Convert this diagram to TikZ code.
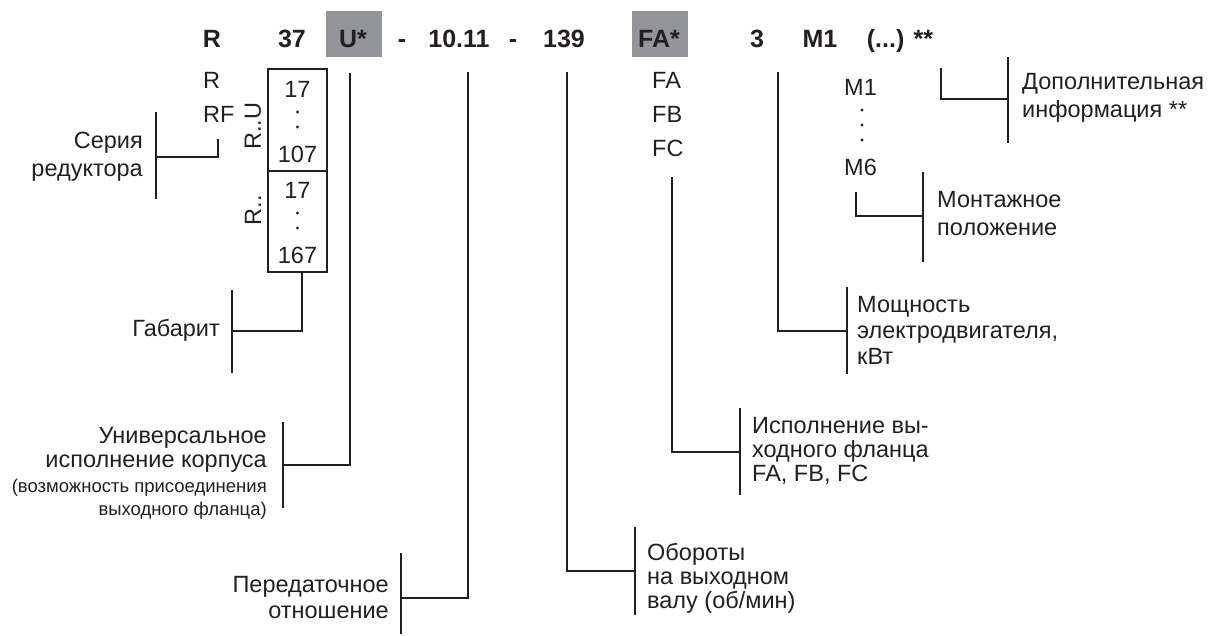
\documentclass[tikz,border=0pt]{standalone}
\usepackage{fontspec}
\setmainfont{Liberation Sans}
\definecolor{ink}{HTML}{231F20}
\definecolor{boxgray}{HTML}{939598}
\newcommand\lblL[1]{\begin{tabular}[t]{@{}l@{}}#1\end{tabular}}
\newcommand\lblR[1]{\begin{tabular}[t]{@{}r@{}}#1\end{tabular}}
\begin{document}
\begin{tikzpicture}[x=1pt,y=-1pt,
  conn/.style={draw=ink, line width=1.8pt},
  frame/.style={draw=ink, line width=1.8pt},
  graybox/.style={fill=boxgray, draw=none},
  code/.style={font=\fontsize{25}{28}\selectfont\bfseries, text=ink, inner sep=0pt, anchor=base},
  txt/.style={font=\fontsize{23.5}{24}\selectfont, text=ink, inner sep=0pt},
  txtw/.style={font=\fontsize{23.5}{28}\selectfont, text=ink, inner sep=0pt},
  txtm/.style={font=\fontsize{23.5}{26}\selectfont, text=ink, inner sep=0pt},
  small/.style={font=\fontsize{18.5}{23}\selectfont, text=ink, inner sep=0pt},
  val/.style={font=\fontsize{23.5}{24}\selectfont, text=ink, inner sep=0pt, anchor=base},
  dot/.style={circle, fill=ink, inner sep=0pt, minimum size=3.2pt},
]
\useasboundingbox (0,0) rectangle (1210,635);

% gray highlight boxes
\fill[graybox] (326,11) rectangle (382,57);
\fill[graybox] (632,11) rectangle (688,57);

% code row
\node[code] (cR) at (212,47) {R};
\node[code] (c37) at (292,47) {37};
\node[code] (cU) at (353,47) {U*};
\node[code] (cd1) at (402,47) {-};
\node[code] (cRatio) at (459,47) {10.11};
\node[code] (cd2) at (513,47) {-};
\node[code] (c139) at (564,47) {139};
\node[code] (cFA) at (659,47) {FA*};
\node[code] (c3) at (757,47) {3};
\node[code] (cM1) at (820,47) {M1};
\node[code] (cX) at (900,47) {(...) **};

% series options
\node[val, anchor=base west] (sR) at (203,88) {R};
\node[val, anchor=base west] (sRF) at (203,122) {RF};

% size box
\draw[frame] (268,69) rectangle (327,272);
\draw[frame, line width=2.4pt] (268,171) -- (327,171);
\node[val] (n17a) at (297.5,97) {17};
\node[dot] (da1) at (297.5,112) {};
\node[dot] (da2) at (297.5,127) {};
\node[val] (n107) at (297.5,162) {107};
\node[val] (n17b) at (297.5,198) {17};
\node[dot] (db1) at (297.5,213) {};
\node[dot] (db2) at (297.5,228) {};
\node[val] (n167) at (297.5,263) {167};
\node[txt, rotate=90] (rU) at (253,126) {R..U};
\node[txt, rotate=90] (rR) at (253,210) {R..};

% flange options
\node[val, anchor=base west] (fA) at (652,88) {FA};
\node[val, anchor=base west] (fB) at (652,122) {FB};
\node[val, anchor=base west] (fC) at (652,156) {FC};

% mounting positions
\node[val, anchor=base west] (m1) at (844,95) {M1};
\node[dot] (dm1) at (862,110) {};
\node[dot] (dm2) at (862,125) {};
\node[dot] (dm3) at (862,140) {};
\node[val, anchor=base west] (m6) at (844,175) {M6};

% labels
\node[txtw, anchor=base east] (lSeries) at (143,148) {\lblR{Серия\\редуктора}};
\node[txt, anchor=base east] (lSize) at (220,336) {Габарит};
\node[txt, anchor=base east] (lUniv) at (267,443) {\lblR{Универсальное\\исполнение корпуса}};
\node[small, anchor=base east] (lUnivS) at (267,492) {\lblR{(возможность присоединения\\выходного фланца)}};
\node[txtm, anchor=base east] (lRatio) at (389,592) {\lblR{Передаточное\\отношение}};
\node[txt, anchor=base west] (lSpeed) at (647,560) {\lblL{Обороты\\на выходном\\валу (об/мин)}};
\node[txt, anchor=base west] (lFlange) at (752,433) {\lblL{Исполнение вы-\\ходного фланца\\FA, FB, FC}};
\node[txtm, anchor=base west] (lPower) at (857,312) {\lblL{Мощность\\электродвигателя,\\кВт}};
\node[txtw, anchor=base west] (lMount) at (937,207) {\lblL{Монтажное\\положение}};
\node[txtw, anchor=base west] (lExtra) at (1022,89) {\lblL{Дополнительная\\информация **}};

% connector coordinates
\coordinate (pSeries) at (218,139);
\coordinate (bSeries) at (156,157);
\coordinate (pSize) at (302,272);
\coordinate (bSize) at (232,331);
\coordinate (pU) at (350,73);
\coordinate (bU) at (283,465);
\coordinate (pRatio) at (468,72);
\coordinate (bRatio) at (401,598);
\coordinate (pSpeed) at (567,72);
\coordinate (bSpeed) at (635,571);
\coordinate (pFlange) at (672,177);
\coordinate (bFlange) at (740,452);
\coordinate (pPower) at (778,72);
\coordinate (bPower) at (847,331);
\coordinate (pMount) at (856,192);
\coordinate (bMount) at (923,216);
\coordinate (pExtra) at (941,68);
\coordinate (bExtra) at (1008,99);

% connectors
\draw[conn] (pSeries) |- (bSeries);
\draw[conn] (156,112) -- (156,199);
\draw[conn] (pSize) |- (bSize);
\draw[conn] (232,290) -- (232,373);
\draw[conn] (pU) |- (bU);
\draw[conn] (283,422) -- (283,508);
\draw[conn] (pRatio) |- (bRatio);
\draw[conn] (401,553) -- (401,634);
\draw[conn] (pSpeed) |- (bSpeed);
\draw[conn] (635,527) -- (635,615);
\draw[conn] (pFlange) |- (bFlange);
\draw[conn] (740,408) -- (740,495);
\draw[conn] (pPower) |- (bPower);
\draw[conn] (847,287) -- (847,374);
\draw[conn] (pMount) |- (bMount);
\draw[conn] (923,172) -- (923,262);
\draw[conn] (pExtra) |- (bExtra);
\draw[conn] (1008,57) -- (1008,143);
\end{tikzpicture}
\end{document}
